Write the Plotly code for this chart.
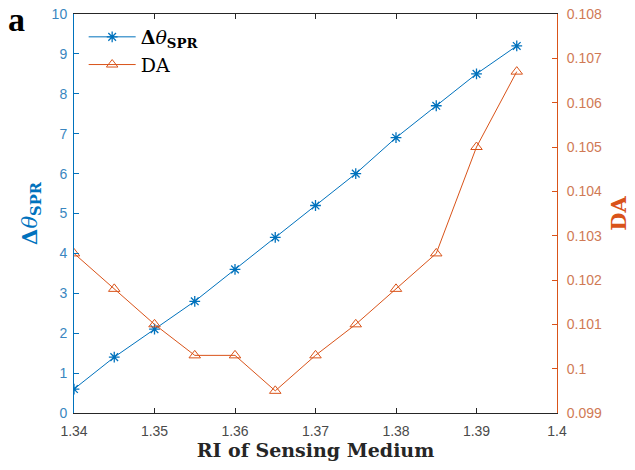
import plotly.graph_objects as go

ri = [1.34, 1.345, 1.35, 1.355, 1.36, 1.365, 1.37, 1.375, 1.38, 1.385, 1.39, 1.395]
dtheta = [0.6, 1.4, 2.1, 2.8, 3.6, 4.4, 5.2, 6.0, 6.9, 7.7, 8.5, 9.2]
da = [0.1026, 0.1018, 0.1010, 0.1003, 0.1003, 0.0995, 0.1003, 0.1010, 0.1018, 0.1026, 0.1050, 0.1067]

x_ticks = [1.34, 1.35, 1.36, 1.37, 1.38, 1.39, 1.4]
x_ticktext = ["1.34", "1.35", "1.36", "1.37", "1.38", "1.39", "1.4"]
y1_ticks = list(range(0, 11))
y2_ticks = [0.099, 0.100, 0.101, 0.102, 0.103, 0.104, 0.105, 0.106, 0.107, 0.108]
y2_ticktext = ["0.099", "0.1", "0.101", "0.102", "0.103", "0.104", "0.105", "0.106", "0.107", "0.108"]

BLUE = "#0072BD"
ORANGE = "#D95319"
SERIF = "DejaVu Serif, serif"
TIMES = "Liberation Serif, Times New Roman, serif"
SANS = "Liberation Sans, Arial, sans-serif"

fig = go.Figure()
fig.add_trace(go.Scatter(
    x=ri, y=dtheta, mode="lines+markers",
    name="<b>Δ</b><i>θ</i><sub><b>SPR</b></sub>",
    line=dict(color=BLUE, width=1),
    marker=dict(symbol="asterisk-open", size=9, color=BLUE, line=dict(color=BLUE, width=1.3)),
    yaxis="y",
))
fig.add_trace(go.Scatter(
    x=ri, y=da, mode="lines+markers",
    name="DA",
    line=dict(color=ORANGE, width=1),
    marker=dict(symbol="triangle-up-open", size=10, color=ORANGE, line=dict(color=ORANGE, width=1)),
    yaxis="y2",
))

fig.update_layout(
    width=635, height=470,
    margin=dict(l=74, r=78, t=14, b=57),
    paper_bgcolor="white", plot_bgcolor="white",
    showlegend=True,
    legend=dict(x=0.02, y=0.99, xanchor="left", yanchor="top",
                bgcolor="rgba(255,255,255,0)", borderwidth=0,
                font=dict(family=SERIF, size=19, color="black"),
                tracegroupgap=0, itemwidth=47),
    xaxis=dict(
        range=[1.34, 1.4], tickvals=x_ticks, ticktext=x_ticktext,
        ticks="inside", ticklen=5, tickcolor="#262626",
        showline=True, linecolor="#262626", linewidth=1, mirror="ticks",
        showgrid=False, zeroline=False, ticklabelstandoff=5, automargin=False,
        tickfont=dict(family=SANS, size=14, color="#4a4a4a"),
        title=dict(text="<b>RI of Sensing Medium</b>", font=dict(family=SERIF, size=19, color="#262626"), standoff=2),
    ),
    yaxis=dict(
        range=[0, 10], tickvals=y1_ticks,
        ticks="inside", ticklen=5, tickcolor=BLUE,
        showline=True, linecolor=BLUE, linewidth=1,
        showgrid=False, zeroline=False, ticklabelstandoff=3, automargin=False,
        tickfont=dict(family=SANS, size=14, color="#3a86c0"),
        title=dict(text="<b>Δ</b><i>θ</i><sub><b>SPR</b></sub>", font=dict(family=SERIF, size=21, color=BLUE), standoff=8),
    ),
    yaxis2=dict(
        range=[0.099, 0.108], tickvals=y2_ticks, ticktext=y2_ticktext,
        overlaying="y", side="right",
        ticks="inside", ticklen=5, tickcolor=ORANGE,
        showline=True, linecolor=ORANGE, linewidth=1,
        showgrid=False, zeroline=False, ticklabelstandoff=6, automargin=False,
        tickfont=dict(family=SANS, size=14, color="#d07a55"),
        title=dict(text="<b>DA</b>", font=dict(family=SERIF, size=21, color=ORANGE), standoff=10),
    ),
    annotations=[dict(text="<b>a</b>", x=-0.119, y=0.985, xref="paper", yref="paper",
                      xanchor="center", yanchor="middle", showarrow=False,
                      font=dict(family=TIMES, size=34, color="black"))],
)

fig.write_html("out.html")
